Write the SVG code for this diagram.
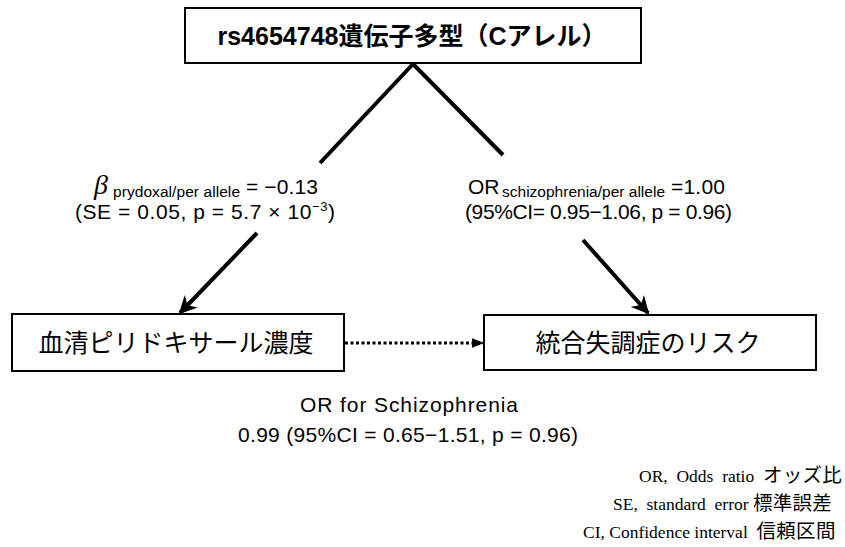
<svg xmlns="http://www.w3.org/2000/svg" width="845" height="547" viewBox="0 0 845 547">
<style>
.box{fill:#fff;stroke:#000;stroke-width:2}
.title{font-family:"Liberation Sans","Noto Sans CJK JP",sans-serif;font-size:25px;fill:#000;text-anchor:middle}
.lbl{font-family:"Liberation Sans","Noto Sans CJK JP",sans-serif;font-size:21px;fill:#000}
.sub{font-size:15.5px}
.note{font-family:"Liberation Serif","Noto Sans CJK JP",serif;font-size:17.5px;fill:#000;white-space:pre}
.cjk{font-size:19.5px;letter-spacing:0.3px}
.ln{stroke:#000;stroke-width:4;fill:none}
</style>
<defs>
<marker id="ah" viewBox="0 0 10 10" refX="9" refY="5" markerWidth="4.5" markerHeight="4.5" orient="auto" markerUnits="strokeWidth">
<path d="M0,0 L10,5 L0,10 L3,5 Z" fill="#000"/>
</marker>
<marker id="ahs" viewBox="0 0 10 10" refX="10" refY="5" markerWidth="4" markerHeight="4" orient="auto" markerUnits="strokeWidth">
<path d="M0,1 L10,5 L0,9 Z" fill="#000"/>
</marker>
</defs>
<rect width="845" height="547" fill="#fff"/>
<g id="connectors">
<line class="ln" x1="413" y1="64" x2="320" y2="163"/>
<line class="ln" x1="413" y1="64" x2="503" y2="155"/>
<line class="ln" x1="257" y1="233" x2="180" y2="313" marker-end="url(#ah)"/>
<line class="ln" x1="583" y1="240" x2="648" y2="313" marker-end="url(#ah)"/>
<line x1="345" y1="343" x2="484" y2="343" stroke="#000" stroke-width="3" stroke-dasharray="3,2.5" marker-end="url(#ahs)"/>
</g>
<g id="node-top">
<rect class="box" x="185" y="8" width="456" height="55"/>
<text class="title" x="412" y="45" font-weight="bold">rs4654748遺伝子多型（Cアレル）</text>
</g>
<g id="node-pyridoxal">
<rect class="box" x="12" y="314" width="332" height="57"/>
<text class="title" x="176" y="352">血清ピリドキサール濃度</text>
</g>
<g id="node-risk">
<rect class="box" x="484" y="315" width="332" height="55"/>
<text class="title" x="648" y="352">統合失調症のリスク</text>
</g>
<g id="label-beta">
<text x="94" y="194" font-family="Liberation Serif,serif" font-size="28" font-style="italic">β</text>
<text class="lbl sub" x="113" y="197" textLength="127" lengthAdjust="spacing">prydoxal/per allele</text>
<text class="lbl" x="246" y="194" textLength="72" lengthAdjust="spacing">= −0.13</text>
<text class="lbl" x="75" y="219" textLength="260" lengthAdjust="spacing">(SE = 0.05, p = 5.7 × 10<tspan font-size="13" dy="-8">−3</tspan><tspan dy="8">)</tspan></text>
</g>
<g id="label-or">
<text class="lbl" x="468" y="194">OR</text>
<text class="lbl sub" x="502" y="197" textLength="163" lengthAdjust="spacing">schizophrenia/per allele</text>
<text class="lbl" x="671" y="194" textLength="54" lengthAdjust="spacing">=1.00</text>
<text class="lbl" x="465" y="219" textLength="267" lengthAdjust="spacing">(95%CI= 0.95−1.06, p = 0.96)</text>
</g>
<g id="label-mid">
<text class="lbl" x="300" y="412" textLength="218" lengthAdjust="spacing">OR for Schizophrenia</text>
<text class="lbl" x="238" y="442" textLength="340" lengthAdjust="spacing">0.99 (95%CI = 0.65−1.51, p = 0.96)</text>
</g>
<g id="notes">
<text class="note" x="639" y="482">OR,  Odds  ratio  <tspan class="cjk">オッズ比</tspan></text>
<text class="note" x="613" y="510">SE,  standard  error <tspan class="cjk">標準誤差</tspan></text>
<text class="note" x="583" y="538">CI, Confidence interval  <tspan class="cjk">信頼区間</tspan></text>
</g>
</svg>
